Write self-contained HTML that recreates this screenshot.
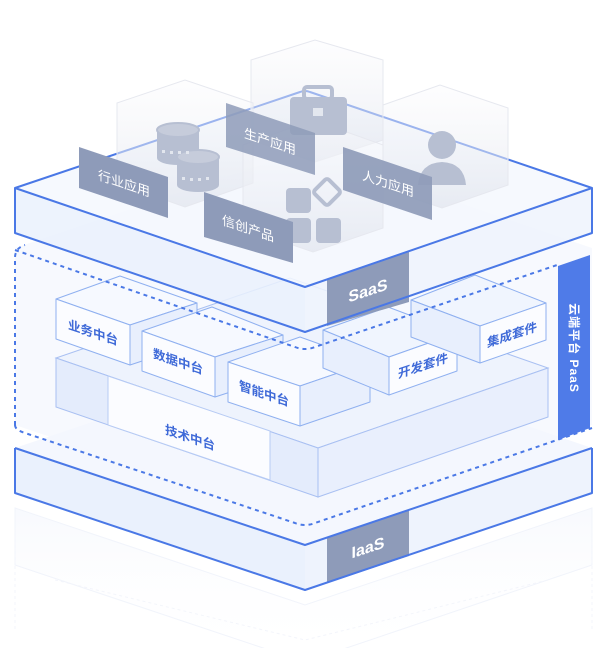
<!DOCTYPE html>
<html><head><meta charset="utf-8">
<style>
html,body{margin:0;padding:0;background:#fff;}
svg{display:block;}
text{font-family:"Liberation Sans","Noto Sans CJK SC",sans-serif;}
</style></head>
<body>
<svg width="604" height="648" viewBox="0 0 604 648" xmlns="http://www.w3.org/2000/svg">
<defs>
<linearGradient id="prism" x1="0" y1="0" x2="0" y2="1">
<stop offset="0" stop-color="#fbfbfd" stop-opacity="0.4"/>
<stop offset="1" stop-color="#dfe3ec" stop-opacity="0.65"/>
</linearGradient>
<linearGradient id="refl" x1="0" y1="0" x2="0" y2="1">
<stop offset="0" stop-color="#f3f6fd" stop-opacity="0.6"/>
<stop offset="1" stop-color="#ffffff" stop-opacity="0"/>
</linearGradient>
</defs>

<!-- reflection -->
<path d="M15,565 L305,662 L592,565 L592,508 L305,605 L15,508 Z" fill="url(#refl)" stroke="#f1f4fb" stroke-width="1"/>
<path d="M15,530 L15,630 M592,530 L592,630 M55,580 L305,640 L548,580" fill="none" stroke="#f3f5fb" stroke-width="1" stroke-dasharray="3 3"/>

<!-- IaaS slab -->
<path d="M15,448 L305,350 L592,448 L305,545 Z" fill="#f4f7fe"/>
<path d="M15,448 L305,545 L305,590 L15,493 Z" fill="#eaf1fd"/>
<path d="M305,545 L592,448 L592,493 L305,590 Z" fill="#eef3fd"/>
<polygon points="327,537 409,510 409,556 327,583" fill="#8e9bb9"/>
<text transform="translate(368,553) matrix(1,-0.334,0,1,0,0)" font-size="16" font-weight="bold" fill="#fff" text-anchor="middle">IaaS</text>
<path d="M15,448 L305,545 L592,448 M15,448 L15,493 L305,590 L592,493 L592,448" fill="none" stroke="#4a78e6" stroke-width="2" stroke-linejoin="round"/>

<!-- PaaS dashed area fill -->
<path d="M15,248 L305,150 L592,248 L592,425 L305,523 L15,425 Z" fill="#f3f7fe" opacity="0.7"/>

<!-- tech platform -->
<path d="M56,358 L290,278 L548,368 L318,448 Z" fill="#eef3fd" stroke="#a9c0f2" stroke-width="1"/>
<path d="M56,358 L318,448 L318,497 L56,407 Z" fill="#e4ecfc" stroke="#a9c0f2" stroke-width="1"/>
<path d="M318,448 L548,368 L548,417 L318,497 Z" fill="#e9effd" stroke="#a9c0f2" stroke-width="1"/>
<polygon points="108,376 270,431 270,480 108,425" fill="#fbfcff" stroke="#b7cbf4" stroke-width="1"/>
<text transform="translate(190,442) matrix(1,0.334,0,1,0,0)" font-size="12.5" font-weight="bold" fill="#3f6ad8" text-anchor="middle">技术中台</text>

<!-- boxes -->
<g stroke="#8fb0f0" stroke-width="1" stroke-linejoin="round">
<polygon points="56,299 120,276 197,303 130,325" fill="#f6f9ff"/>
<polygon points="56,299 130,325 130,365 56,339" fill="#fbfcff"/>
<polygon points="130,325 197,303 197,343 130,365" fill="#e8effd"/>

<polygon points="142,331 212,307 283,335 215,357" fill="#f6f9ff"/>
<polygon points="142,331 215,357 215,397 142,371" fill="#fbfcff"/>
<polygon points="215,357 283,335 283,375 215,397" fill="#e8effd"/>

<polygon points="228,362 300,337 370,362 300,386" fill="#f6f9ff"/>
<polygon points="228,362 300,386 300,426 228,402" fill="#fbfcff"/>
<polygon points="300,386 370,362 370,402 300,426" fill="#e8effd"/>

<polygon points="323,330 388,307 457,333 389,357" fill="#f0f5fe"/>
<polygon points="323,330 389,357 389,395 323,368" fill="#e8effd"/>
<polygon points="389,357 457,333 457,371 389,395" fill="#fbfcff"/>

<polygon points="411,300 475,275 546,303 480,326" fill="#f0f5fe"/>
<polygon points="411,300 480,326 480,363 411,337" fill="#e8effd"/>
<polygon points="480,326 546,303 546,340 480,363" fill="#fbfcff"/>
</g>
<g font-size="12.5" font-weight="bold" fill="#3f6ad8" text-anchor="middle">
<text transform="translate(93,337) matrix(1,0.334,0,1,0,0)">业务中台</text>
<text transform="translate(178,366) matrix(1,0.334,0,1,0,0)">数据中台</text>
<text transform="translate(264,398) matrix(1,0.334,0,1,0,0)">智能中台</text>
<text transform="translate(423,370) matrix(1,-0.334,0,1,0,0)">开发套件</text>
<text transform="translate(512,339) matrix(1,-0.334,0,1,0,0)">集成套件</text>
</g>

<!-- dashed outline -->
<path d="M15,425 L15,258 Q15,248 25,245 M15,425 Q15,430 25,433 L295,523 Q305,527 315,523 L592,428 M15,250 L295,347 Q305,351 315,347 L560,264" fill="none" stroke="#4a78e6" stroke-width="2" stroke-dasharray="4 4"/>

<!-- SaaS slab -->
<path d="M15,188 L305,90 L592,188 L305,287 Z" fill="#f5f8fe" opacity="0.85"/>
<path d="M15,188 L305,287 L305,332 L15,233 Z" fill="#eaf1fd" opacity="0.85"/>
<path d="M305,287 L592,188 L592,233 L305,332 Z" fill="#eef3fd" opacity="0.85"/>
<polygon points="327,279 409,252 409,302 327,326" fill="#8e9bb9"/>
<text transform="translate(368,296) matrix(1,-0.334,0,1,0,0)" font-size="16" font-weight="bold" fill="#fff" text-anchor="middle">SaaS</text>
<path d="M15,188 L300,92 Q305,90 310,92 L592,188 L305,287 Z M15,188 L15,233 L305,332 L592,233 L592,188" fill="none" stroke="#4a78e6" stroke-width="2" stroke-linejoin="round"/>

<!-- prisms -->
<g stroke="#e6e8ef" stroke-width="1">
<path d="M251,60 L315,40 L383,60 L383,140 L315,162 L251,140 Z" fill="url(#prism)"/>
<path d="M117,103 L185,80 L253,103 L253,183 L185,207 L117,183 Z" fill="url(#prism)"/>
<path d="M383,105 L440,85 L508,108 L508,185 L442,208 L383,188 Z" fill="url(#prism)"/>
<path d="M243,145 L313,120 L383,145 L383,228 L313,252 L243,228 Z" fill="url(#prism)"/>
</g>
<!-- icons -->
<g fill="#b7bfd2">
<rect x="290" y="97" width="57" height="38" rx="4"/>
<rect x="304" y="87" width="28" height="12" rx="3" fill="none" stroke="#b7bfd2" stroke-width="4"/>
<rect x="313" y="108" width="10" height="8" fill="#e3e7ef"/>
<!-- coins -->
<ellipse cx="178" cy="158" rx="21" ry="7"/>
<rect x="157" y="144" width="42" height="14"/>
<ellipse cx="178" cy="144" rx="21" ry="7"/>
<rect x="157" y="130" width="42" height="14"/>
<ellipse cx="178" cy="130" rx="21" ry="7" fill="#c6ccdb" stroke="#b7bfd2" stroke-width="2"/>
<ellipse cx="198" cy="185" rx="21" ry="7"/>
<rect x="177" y="171" width="42" height="14"/>
<ellipse cx="198" cy="171" rx="21" ry="7"/>
<rect x="177" y="157" width="42" height="14"/>
<ellipse cx="198" cy="157" rx="21" ry="7" fill="#c6ccdb" stroke="#b7bfd2" stroke-width="2"/>
<!-- blocks -->
<rect x="286" y="188" width="25" height="25" rx="4"/>
<rect x="286" y="218" width="25" height="25" rx="4"/>
<rect x="316" y="218" width="25" height="25" rx="4"/>
<rect x="317" y="182" width="20" height="20" rx="3" transform="rotate(45 327 192)" fill="none" stroke="#b7bfd2" stroke-width="4"/>
<circle cx="442" cy="145" r="14"/>
<path d="M418,185 Q420,163 442,162 Q464,163 466,185 Z"/>
</g>
<g fill="#e2e6ee">
<rect x="162" y="150" width="3" height="3"/><rect x="170" y="151" width="3" height="3"/><rect x="178" y="151" width="3" height="3"/><rect x="186" y="151" width="3" height="3"/>
<rect x="182" y="177" width="3" height="3"/><rect x="190" y="178" width="3" height="3"/><rect x="198" y="178" width="3" height="3"/><rect x="206" y="177" width="3" height="3"/>
</g>

<!-- tags -->
<g fill="#8e9bb9">
<polygon points="226,103 315,133 315,175 226,147" opacity="0.85"/>
<polygon points="79,147 168,177 168,218 79,188"/>
<polygon points="343,147 432,177 432,220 343,190" opacity="0.92"/>
<polygon points="204,192 293,222 293,263 204,237"/>
</g>
<g font-size="13" fill="#fff" text-anchor="middle">
<text transform="translate(270,146) matrix(1,0.334,0,1,0,0)">生产应用</text>
<text transform="translate(124,188) matrix(1,0.334,0,1,0,0)">行业应用</text>
<text transform="translate(388,188) matrix(1,0.334,0,1,0,0)">人力应用</text>
<text transform="translate(248,233) matrix(1,0.334,0,1,0,0)">信创产品</text>
</g>

<!-- PaaS bar -->
<polygon points="558,266 590,255 590,428 558,440" fill="#4f7be8"/>
<text transform="translate(570,348) rotate(90)" font-size="12" font-weight="bold" fill="#fff" text-anchor="middle" letter-spacing="1">云端平台 PaaS</text>
</svg>
</body></html>
